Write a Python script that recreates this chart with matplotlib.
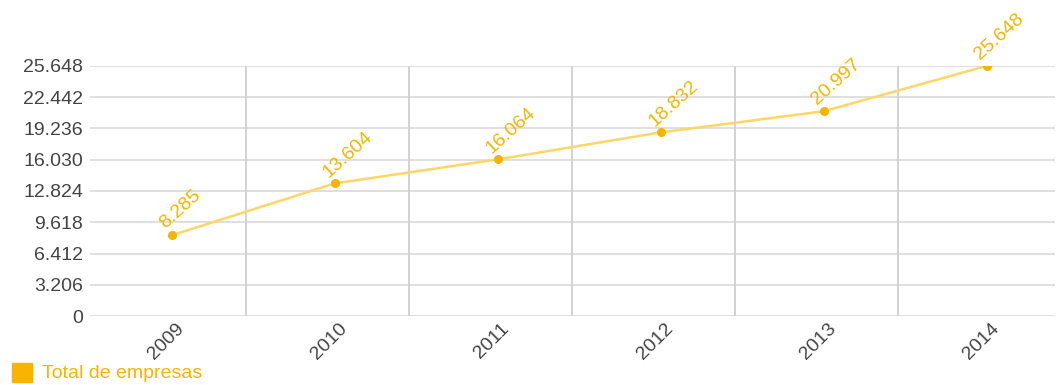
import matplotlib.pyplot as plt
from matplotlib.ticker import FuncFormatter
import matplotlib.transforms as mtransforms

# data
years = ['2009', '2010', '2011', '2012', '2013', '2014']
empresas = [8285, 13604, 16064, 18832, 20997, 25648]
y_ticks = [0, 3206, 6412, 9618, 12824, 16030, 19236, 22442, 25648]

plt.rcParams['font.family'] = ['Liberation Sans', 'DejaVu Sans']

fig = plt.figure(figsize=(10.58, 3.85), dpi=100)
ax = fig.add_axes([0.085, 0.179, 0.912, 0.650])

x = list(range(len(years)))

# grid
for t in y_ticks:
    ax.axhline(t, color='#dcdcdc', linewidth=1.3, zorder=0)
for i in range(len(years) - 1):
    ax.axvline(i + 0.455, color='#cfcfcf', linewidth=1.3, zorder=0)

ax.plot(x, empresas, color='#ffd666', linewidth=1.8, zorder=2)
ax.plot(x, empresas, 'o', color='#f4b400', markersize=5.5, zorder=3)

# value labels
for xi, v in zip(x, empresas):
    ax.annotate(f'{v:,}'.replace(',', '.'), (xi, v), xytext=(-3, 2), textcoords='offset points',
                rotation=42, rotation_mode='anchor', ha='left', va='bottom',
                fontsize=14, color='#f4b400', zorder=4)

ax.set_xlim(-0.503, 5.417)
ax.set_ylim(0, 25648)
ax.set_yticks(y_ticks)
ax.yaxis.set_major_formatter(FuncFormatter(lambda v, p: f'{int(v):,}'.replace(',', '.')))
ax.set_xticks(x)
ax.set_xticklabels([])

# rotated x labels, shifted slightly left like the original
trans = mtransforms.offset_copy(ax.get_xaxis_transform(), fig=fig, x=-6, y=-4, units='dots')
for xi, yr in zip(x, years):
    ax.text(xi, 0, yr, transform=trans, rotation=45, ha='center', va='top',
            fontsize=14, color='#444444')

ax.tick_params(axis='both', length=0, labelsize=14, labelcolor='#444444')
ax.tick_params(axis='y', pad=5)
for s in ax.spines.values():
    s.set_visible(False)

# legend
fig.patches.append(plt.Rectangle((12 / 1058, 1 - 382 / 385), 20 / 1058, 19 / 385,
                                 transform=fig.transFigure, color='#f9b300'))
fig.text(42 / 1058, 1 - 373 / 385, 'Total de empresas', fontsize=14, color='#f9b300',
         va='center', ha='left')

plt.savefig('out.png', dpi=100)
